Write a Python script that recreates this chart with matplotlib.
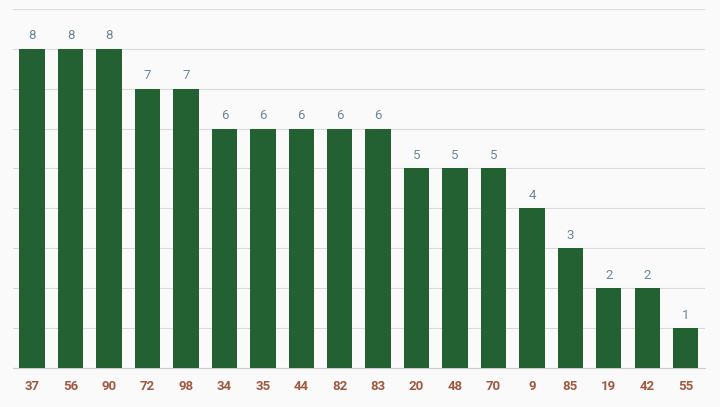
import matplotlib.pyplot as plt

categories = ["37", "56", "90", "72", "98", "34", "35", "44", "82", "83",
              "20", "48", "70", "9", "85", "19", "42", "55"]
values = [8, 8, 8, 7, 7, 6, 6, 6, 6, 6, 5, 5, 5, 4, 3, 2, 2, 1]

plt.rcParams['font.family'] = ['Roboto', 'DejaVu Sans']

fig = plt.figure(figsize=(7.2, 4.07), dpi=100, facecolor="#fafafa")
ax = fig.add_axes([0.018, 0.096, 0.961, 0.882])
ax.set_facecolor("#fafafa")

x = range(len(categories))
bars = ax.bar(x, values, width=0.66, color="#236133", zorder=3)

for xi, v in zip(x, values):
    ax.text(xi, v + 0.16, str(v), ha="center", va="bottom", fontsize=9.5,
            color="#6b8799", zorder=4)

ax.set_xlim(-0.5, len(categories) - 0.5)
ax.set_ylim(0, 9)
ax.set_yticks(range(0, 10))
ax.set_yticklabels([])
ax.tick_params(axis="y", length=0)
ax.grid(axis="y", color="#dadada", linewidth=0.8, zorder=0)

ax.set_xticks(list(x))
ax.set_xticklabels(categories, fontsize=9.5, fontweight="bold", color="#a0583f")
ax.tick_params(axis="x", length=0, pad=9)

for s in ["top", "right", "left"]:
    ax.spines[s].set_visible(False)
ax.spines["bottom"].set_color("#cccccc")
ax.spines["bottom"].set_linewidth(0.8)

fig.savefig("out.png", dpi=100, facecolor=fig.get_facecolor())
